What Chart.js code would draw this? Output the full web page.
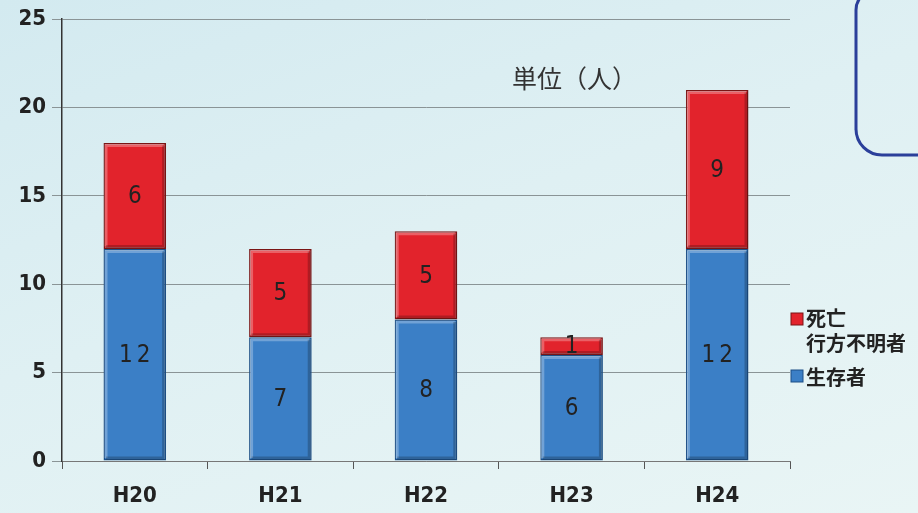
<!DOCTYPE html>
<html>
<head>
<meta charset="utf-8">
<script src="https://cdn.jsdelivr.net/npm/chart.js@4"></script>
<style>
  html, body { margin: 0; padding: 0; }
  body {
    width: 918px; height: 513px; overflow: hidden;
    background: linear-gradient(160deg, #d3eaf0 0%, #dff0f3 45%, #e9f5f5 100%);
  }
  #wrap { position: relative; width: 918px; height: 513px; }
</style>
</head>
<body>
<div id="wrap"><canvas id="chart" width="918" height="513"></canvas></div>
<script>
// データ
const years = ['H20', 'H21', 'H22', 'H23', 'H24'];
const survivors = [12, 7, 8, 6, 12];   // 生存者
const dead = [6, 5, 5, 1, 9];          // 死亡・行方不明者
const yTicks = [0, 5, 10, 15, 20, 25];

const blue = '#3b7fc6';
const red = '#e2232c';

// 棒に立体感をつけて、中に数値を書く
const valueLabels = {
  id: 'valueLabels',
  afterDatasetsDraw(chart) {
    const c = chart.ctx;
    c.save();
    chart.data.datasets.forEach((ds, i) => {
      chart.getDatasetMeta(i).data.forEach(bar => {
        const x0 = bar.x - bar.width / 2, x1 = bar.x + bar.width / 2;
        const y0 = bar.y, y1 = bar.base;
        if (y1 - y0 < 8) return;
        c.lineWidth = 3;
        c.strokeStyle = 'rgba(255,255,255,0.28)';
        c.beginPath();
        c.moveTo(x0 + 2.5, y1 - 2.5); c.lineTo(x0 + 2.5, y0 + 2.5); c.lineTo(x1 - 2.5, y0 + 2.5);
        c.stroke();
        c.strokeStyle = 'rgba(0,0,0,0.22)';
        c.beginPath();
        c.moveTo(x1 - 2.5, y0 + 2.5); c.lineTo(x1 - 2.5, y1 - 2.5); c.lineTo(x0 + 2.5, y1 - 2.5);
        c.stroke();
      });
    });
    c.font = '24px "DejaVu Sans Condensed", "DejaVu Sans", sans-serif';
    c.fillStyle = '#222';
    c.textAlign = 'center';
    c.textBaseline = 'middle';
    c.letterSpacing = '4px';
    chart.data.datasets.forEach((ds, i) => {
      chart.getDatasetMeta(i).data.forEach((bar, j) => {
        // letterSpacing は末尾にも付くので 2px 右へ戻す
        c.fillText(String(ds.data[j]), bar.x + 2, (bar.y + bar.base) / 2 + 1);
      });
    });
    c.restore();
  }
};

// 凡例・単位・右上の枠
const extras = {
  id: 'extras',
  afterDraw(chart) {
    const c = chart.ctx;
    c.save();
    // 単位
    c.font = '25px "Noto Sans CJK JP", sans-serif';
    c.fillStyle = '#333';
    c.textAlign = 'left';
    c.textBaseline = 'middle';
    c.fillText('単位（人）', 512, 78);

    // 凡例
    c.font = 'bold 20px "Noto Sans CJK JP", sans-serif';
    c.fillStyle = red;
    c.strokeStyle = '#7a1515';
    c.lineWidth = 1;
    c.fillRect(791, 313, 12, 12);
    c.strokeRect(791, 313, 12, 12);
    c.fillStyle = '#222';
    c.fillText('死亡', 806, 318);
    c.fillText('行方不明者', 806, 343);
    c.fillStyle = blue;
    c.strokeStyle = '#1d4f86';
    c.fillRect(791, 370, 12, 12);
    c.strokeRect(791, 370, 12, 12);
    c.fillStyle = '#222';
    c.fillText('生存者', 806, 377);

    // 右上の枠
    c.strokeStyle = '#2b3f9a';
    c.lineWidth = 3;
    c.beginPath();
    c.moveTo(930, -10);
    c.lineTo(875, -10);
    c.arcTo(856, -10, 856, 10, 20);
    c.lineTo(856, 130);
    c.arcTo(856, 155, 882, 155, 26);
    c.lineTo(930, 155);
    c.stroke();
    c.restore();
  }
};

const tickFont = { family: '"DejaVu Sans Condensed", "DejaVu Sans", sans-serif', size: 22, weight: 'bold' };

new Chart(document.getElementById('chart'), {
  type: 'bar',
  data: {
    labels: years,
    datasets: [
      {
        label: '生存者',
        data: survivors,
        backgroundColor: blue,
        borderColor: '#1d4f86',
        borderWidth: 1.5,
        borderSkipped: false
      },
      {
        label: '死亡 行方不明者',
        data: dead,
        backgroundColor: red,
        borderColor: '#7a1515',
        borderWidth: 1.5,
        borderSkipped: false
      }
    ]
  },
  options: {
    responsive: false,
    animation: false,
    layout: { padding: { top: 8, right: 128, left: 0, bottom: 0 } },
    plugins: { legend: { display: false }, tooltip: { enabled: false } },
    datasets: { bar: { categoryPercentage: 1, barPercentage: 0.43 } },
    scales: {
      x: {
        stacked: true,
        offset: true,
        grid: { display: true, drawOnChartArea: false, offset: true, tickLength: 8, color: '#555' },
        border: { color: '#777', width: 1 },
        ticks: { color: '#222', padding: 14, font: tickFont },
        afterFit(s) { s.height = 52; }
      },
      y: {
        stacked: true,
        min: 0,
        max: 25,
        afterBuildTicks(s) { s.ticks = yTicks.map(v => ({ value: v })); },
        grid: { color: '#8a9496', lineWidth: 1, tickLength: 10 },
        border: { color: '#333', width: 1.5 },
        ticks: { color: '#222', padding: 6, font: tickFont },
        afterFit(s) { s.width = 62; }
      }
    }
  },
  plugins: [valueLabels, extras]
});
</script>
</body>
</html>
